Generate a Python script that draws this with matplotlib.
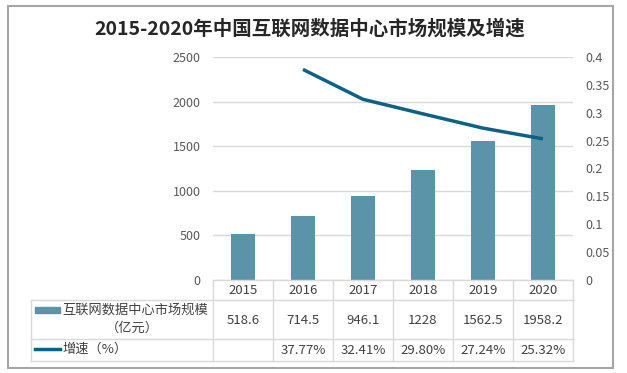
import matplotlib
matplotlib.use("Agg")
import matplotlib.pyplot as plt
from matplotlib.lines import Line2D
from matplotlib.patches import Rectangle

plt.rcParams['font.family'] = ['Noto Sans CJK SC', 'DejaVu Sans']

title = "2015-2020年中国互联网数据中心市场规模及增速"
years = ["2015", "2016", "2017", "2018", "2019", "2020"]
market = [518.6, 714.5, 946.1, 1228, 1562.5, 1958.2]
growth = [None, 0.3777, 0.3241, 0.2980, 0.2724, 0.2532]
market_labels = ["518.6", "714.5", "946.1", "1228", "1562.5", "1958.2"]
growth_labels = ["", "37.77%", "32.41%", "29.80%", "27.24%", "25.32%"]
series1_name = "互联网数据中心市场规模"
series1_unit = "（亿元）"
series2_name = "增速（%）"

bar_color = "#5B93A9"
line_color = "#0E6183"
grid_color = "#D9D9D9"
text_color = "#404040"
tick_color = "#595959"

W, H = 627, 373
fig = plt.figure(figsize=(W / 100, H / 100), dpi=100)

def fx(x):
    return x / W

def fy(y):
    return 1 - y / H

# axes area in pixels
L, R, T, B = 213, 573, 57, 280
ax = fig.add_axes([fx(L), fy(B), fx(R) - fx(L), fy(T) - fy(B)])
x = list(range(len(years)))
ax.bar(x, market, width=0.4, color=bar_color, zorder=3)
ax.set_xlim(-0.5, len(years) - 0.5)
ax.set_ylim(0, 2500)
ax.set_yticks([0, 500, 1000, 1500, 2000, 2500])
ax.yaxis.grid(True, color=grid_color, linewidth=1, zorder=0)
ax.set_xticks([])
for s in ax.spines.values():
    s.set_visible(False)
ax.tick_params(axis='y', length=0, labelsize=9, labelcolor=tick_color, pad=9)

ax2 = ax.twinx()
gx = [i for i, g in enumerate(growth) if g is not None]
gy = [g for g in growth if g is not None]
ax2.plot(gx, gy, color=line_color, linewidth=2.5, zorder=4, solid_capstyle='butt')
ax2.set_ylim(0, 0.4)
ax2.set_yticks([0, 0.05, 0.1, 0.15, 0.2, 0.25, 0.3, 0.35, 0.4])
ax2.set_yticklabels(["0", "0.05", "0.1", "0.15", "0.2", "0.25", "0.3", "0.35", "0.4"])
for s in ax2.spines.values():
    s.set_visible(False)
ax2.tick_params(axis='y', length=0, labelsize=9, labelcolor=tick_color, pad=9)

# outer border
fig.add_artist(Rectangle((fx(8), fy(368)), fx(613) - fx(8), fy(6) - fy(368),
                         transform=fig.transFigure, fill=False,
                         edgecolor="#A6A6A6", linewidth=1.5))

# title
fig.text(fx(310), fy(29), title, ha='center', va='center', fontsize=14,
         fontweight='bold', color="#262626")

# table
def hline(y, x0, x1):
    fig.add_artist(Line2D([fx(x0), fx(x1)], [fy(y), fy(y)], color=grid_color, linewidth=1,
                          transform=fig.transFigure))

def vline(xp, y0, y1):
    fig.add_artist(Line2D([fx(xp), fx(xp)], [fy(y0), fy(y1)], color=grid_color, linewidth=1,
                          transform=fig.transFigure))

TL = 31
rows = [280, 300, 339, 361]
hline(280, L, R)
for y in rows[1:]:
    hline(y, TL, R)
vline(TL, 300, 361)
colw = (R - L) / len(years)
for i in range(len(years) + 1):
    vline(L + i * colw, 280, 361)

fs = 9.5
for i, yr in enumerate(years):
    cx = L + (i + 0.5) * colw
    fig.text(fx(cx), fy(290), yr, ha='center', va='center', fontsize=fs, color=text_color)
    fig.text(fx(cx), fy(320), market_labels[i], ha='center', va='center', fontsize=fs, color=text_color)
    fig.text(fx(cx), fy(350), growth_labels[i], ha='center', va='center', fontsize=fs, color=text_color)

# legend column
fig.add_artist(Rectangle((fx(35), fy(313)), fx(60) - fx(35), fy(307) - fy(313),
                         transform=fig.transFigure, color=bar_color))
fig.text(fx(62), fy(310), series1_name, ha='left', va='center', fontsize=fs, color=text_color)
fig.text(fx(132), fy(328), series1_unit, ha='center', va='center', fontsize=fs, color=text_color)
fig.add_artist(Line2D([fx(35), fx(60)], [fy(349), fy(349)], color=line_color, linewidth=2.5,
                      transform=fig.transFigure))
fig.text(fx(62), fy(349), series2_name, ha='left', va='center', fontsize=fs, color=text_color)

fig.savefig("out.png", dpi=100)
